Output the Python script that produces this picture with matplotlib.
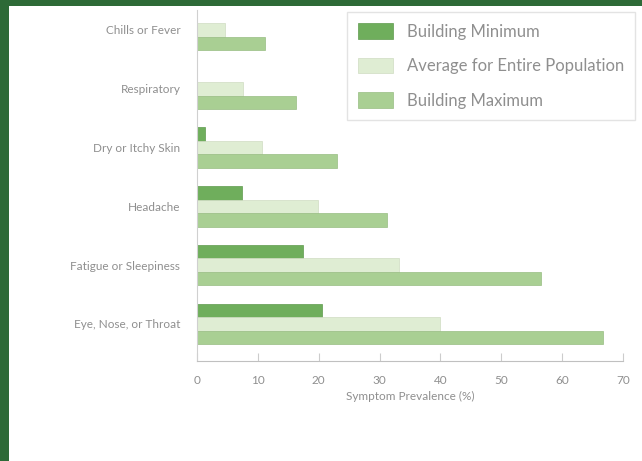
import matplotlib.pyplot as plt
from matplotlib.patches import Rectangle

symptoms = ["Chills or Fever", "Respiratory", "Dry or Itchy Skin",
            "Headache", "Fatigue or Sleepiness", "Eye, Nose, or Throat"]
bldg_min = [0, 0, 1.3, 7.4, 17.4, 20.5]
pop_avg = [4.6, 7.5, 10.7, 19.9, 33.2, 39.9]
bldg_max = [11.2, 16.3, 23.0, 31.2, 56.6, 66.7]
ticks = [0, 10, 20, 30, 40, 50, 60, 70]

text_col = "#8f8f8f"
plt.rcParams['font.family'] = ['Lato', 'DejaVu Sans']

fig = plt.figure(figsize=(6.42, 4.61), dpi=100, facecolor="#2d6a37")
# white panel behind the chart
fig.patches.append(Rectangle((9 / 642, 0), 1, 1 - 6 / 461, transform=fig.transFigure,
                             facecolor="white", edgecolor="none", zorder=-10))

ax = fig.add_axes([197 / 642, 1 - 361 / 461, (623 - 197) / 642, (361 - 10) / 461])
ax.set_facecolor("white")

h = 0.23
y = list(range(len(symptoms)))
ax.barh([v - h for v in y], bldg_min, height=h, color="#6fae5c",
        edgecolor="#5f9a4e", lw=0.5, label="Building Minimum")
ax.barh(y, pop_avg, height=h, color="#dfedd3",
        edgecolor="#cfdcc2", lw=0.5, label="Average for Entire Population")
ax.barh([v + h for v in y], bldg_max, height=h, color="#a9cf93",
        edgecolor="#98bd83", lw=0.5, label="Building Maximum")

ax.set_ylim(len(symptoms) - 1 + 0.63, -0.34)
ax.set_xlim(0, 70)
ax.set_yticks(y)
ax.set_yticklabels(symptoms)
ax.set_xticks(ticks)
ax.tick_params(axis="y", length=0, pad=12, labelsize=8.5, labelcolor=text_col)
ax.tick_params(axis="x", direction="in", length=6, color="#cccccc",
               labelsize=8.5, labelcolor=text_col, pad=10)
for s in ["top", "right"]:
    ax.spines[s].set_visible(False)
ax.spines["left"].set_color("#d0d0d0")
ax.spines["bottom"].set_color("#c0c0c0")
ax.set_xlabel("Symptom Prevalence (%)", color=text_col, fontsize=8.5, labelpad=4)

leg = ax.legend(loc="upper right", bbox_to_anchor=(1.028, 0.994), borderaxespad=0,
                fontsize=12, labelcolor=text_col, frameon=True, fancybox=False,
                edgecolor="#dddddd", handlelength=2.1, handleheight=1.08,
                labelspacing=1.08, borderpad=0.66, handletextpad=0.8)

plt.savefig("out.png", dpi=100, facecolor=fig.get_facecolor())
